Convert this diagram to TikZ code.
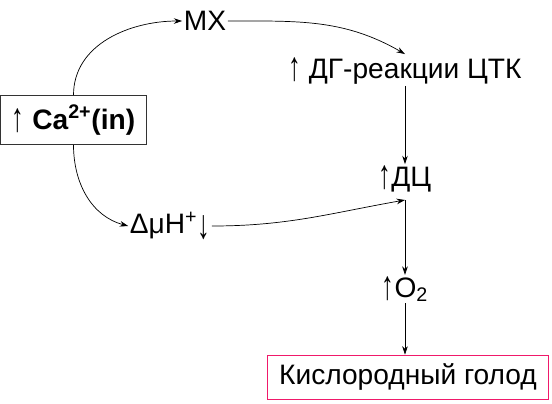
\documentclass[tikz,border=0pt]{standalone}
\usepackage{fontspec}
\setmainfont{Liberation Sans}
\usetikzlibrary{arrows.meta,positioning,calc}
\definecolor{hotpink}{HTML}{F0196A}
\newcommand{\uparr}{\raisebox{-0.15ex}{\scalebox{0.9}[1.45]{↑}}}
\newcommand{\dnarr}{\raisebox{-0.35ex}{\scalebox{0.9}[1.45]{↓}}}

\begin{document}
\begin{tikzpicture}[x=0.025cm,y=-0.025cm,
    lbl/.style={font=\fontsize{20}{23}\selectfont, inner sep=1pt},
    frame/.style={draw, line width=0.6pt, inner sep=3pt, font=\fontsize{20}{23}\selectfont},
    arr/.style={-{Stealth[length=6pt,width=4pt]}, line width=0.5pt}
]
\useasboundingbox (0,0) rectangle (552,403);

\node[frame, draw=black!80, minimum width=146pt*0.709, minimum height=49pt*0.709] (ca) at (73.5,120) {\uparr{} \textbf{Ca\textsuperscript{2+}(in)}};
\node[lbl] (mx) at (205,21) {MX};
\node[lbl] (dmu) at (170,226) {ΔμH\textsuperscript{+}\dnarr};
\node[lbl] (dg) at (405,71) {\uparr{} ДГ-реакции ЦТК};
\node[lbl] (dc) at (405,179) {\uparr ДЦ};
\node[lbl] (o2) at (405,289) {\uparr O\textsubscript{2}};
\node[frame, draw=hotpink, minimum width=282pt*0.709, minimum height=44pt*0.709] (hyp) at (408,377) {Кислородный голод};

\coordinate (dcb) at (405,200);

% ветви от Ca
\draw[arr] (ca.north) to[out=90,in=180] (mx.west);
\draw[arr] (ca.south) to[out=-90,in=165] (dmu.west);

\draw[arr] (mx.east) to[out=0,in=150] ($(dg.north)+(0,-2)$);
\draw[arr] (dg.south) -- (dc.north);
\draw[arr] (dmu.east) to[out=0,in=190] (dcb);
\draw[arr] (dcb) -- (dcb |- o2.north);
\draw[arr] (o2.south) -- (o2.south |- hyp.north);
\end{tikzpicture}
\end{document}
